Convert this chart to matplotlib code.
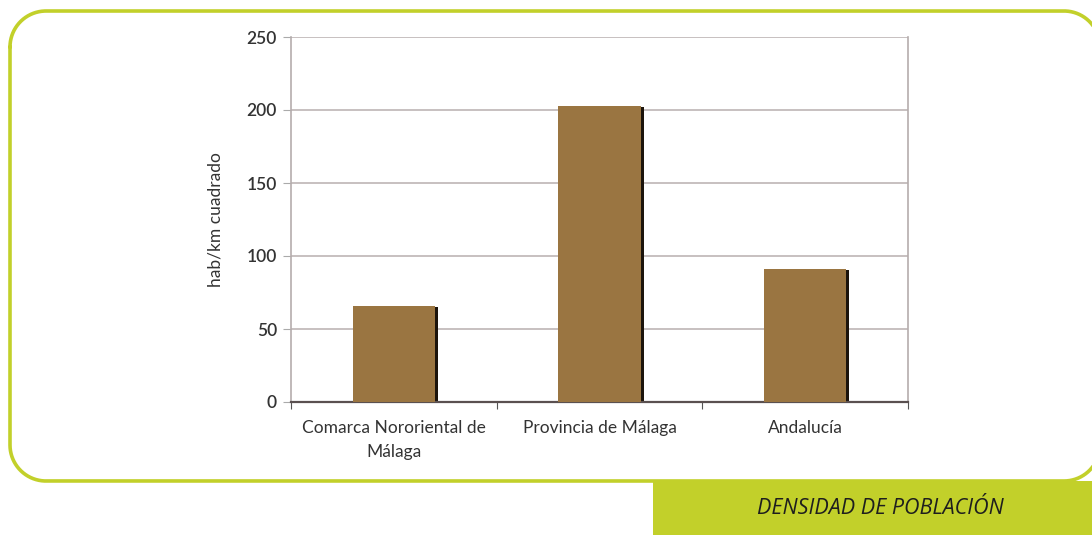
import matplotlib
matplotlib.use("Agg")
import matplotlib.pyplot as plt
import numpy as np
from matplotlib.patches import Rectangle
import matplotlib.transforms as mtransforms

categories = ["Comarca Nororiental de\nMálaga", "Provincia de Málaga", "Andalucía"]
values = [66, 203, 91]
yticks = [0, 50, 100, 150, 200, 250]
ylabel = "hab/km cuadrado"
title = "DENSIDAD DE POBLACIÓN"

plt.rcParams['font.family'] = ['Lato', 'DejaVu Sans']

W, H = 1092, 535
fig = plt.figure(figsize=(W / 100, H / 100), dpi=100)
fig.patch.set_facecolor("white")

green = "#c2d02a"
# decoration layer in pixel coordinates (y down)
bg = fig.add_axes([0, 0, 1, 1])
bg.set_xlim(0, W)
bg.set_ylim(H, 0)
bg.axis("off")

L, R, T, B, r = 10, 1100, 11, 481, 36
def arc(cx, cy, a0, a1):
    t = np.radians(np.linspace(a0, a1, 40))
    return cx + r * np.cos(t), cy + r * np.sin(t)
pieces = [arc(L + r, T + r, 180, 270), arc(R - r, T + r, 270, 360),
          arc(R - r, B - r, 0, 90), arc(L + r, B - r, 90, 180)]
bx = np.concatenate([p[0] for p in pieces] + [pieces[0][0][:1]])
by = np.concatenate([p[1] for p in pieces] + [pieces[0][1][:1]])
bg.plot(bx, by, color=green, linewidth=2.6, solid_capstyle="round")

bg.add_patch(Rectangle((653, 481), W - 653, H - 481, facecolor=green,
                       edgecolor="none", zorder=3))
bg.text(880, 509, title, ha="center", va="center", fontsize=15.5,
        style="italic", color="#1e1e1e", family=["Open Sans", "DejaVu Sans"],
        zorder=4)

ax = fig.add_axes([291 / W, 1 - 402 / H, (908 - 291) / W, (402 - 37) / H])
x = list(range(len(categories)))
# shadow
shadow = mtransforms.offset_copy(ax.transData, fig=fig, x=3, y=-1, units="dots")
ax.bar(x, values, width=0.4, color="#1c140c", transform=shadow, zorder=2)
ax.bar(x, values, width=0.4, color="#9a7541", zorder=3)

ax.set_xlim(-0.5, len(categories) - 0.5)
ax.set_ylim(0, 250)
ax.set_yticks(yticks)
ax.yaxis.grid(True, color="#bdb5b5", linewidth=1.2)
ax.set_axisbelow(True)
ax.set_xticks([i - 0.5 for i in range(len(categories) + 1)], minor=False)
ax.set_xticklabels([])
ax.set_xticks(x, minor=True)
ax.set_xticklabels(categories, minor=True, fontsize=12.5, color="#333333",
                   linespacing=1.6)
ax.tick_params(axis="x", which="minor", length=0, pad=13)
ax.tick_params(axis="x", which="major", length=5, color="#555555", direction="out")
ax.tick_params(axis="y", length=6, color="#aaaaaa", labelsize=12.5,
               labelcolor="#333333", pad=4)
for lab in ax.get_yticklabels():
    lab.set_fontweight("semibold")
for s in ["left", "right", "top"]:
    ax.spines[s].set_color("#b5adad")
    ax.spines[s].set_linewidth(1.2)
ax.spines["top"].set_visible(False)
ax.spines["bottom"].set_color("#5a5050")
ax.spines["bottom"].set_linewidth(1.6)
ax.set_ylabel(ylabel, fontsize=12.5, color="#333333", labelpad=17)

fig.savefig("out.png", dpi=100)
